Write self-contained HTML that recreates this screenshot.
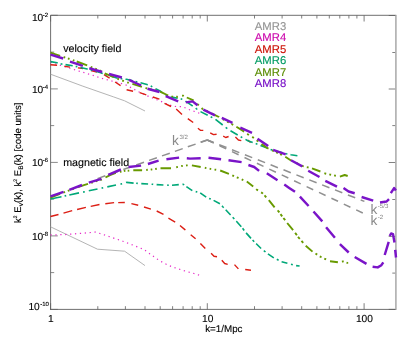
<!DOCTYPE html>
<html><head><meta charset="utf-8"><title>spectra</title>
<style>
html,body{margin:0;padding:0;background:#fff;}
body{width:411px;height:342px;overflow:hidden;}
svg{display:block;will-change:transform;}
text{font-family:"Liberation Sans",sans-serif;text-rendering:geometricPrecision;}
</style></head><body>
<svg width="411" height="342" viewBox="0 0 411 342">
<rect x="0" y="0" width="411" height="342" fill="#fff"/>
<g fill="none" stroke="#606060" stroke-width="0.9">
<path stroke="#4a4a4a" stroke-width="0.7" d="M395.5 15.5h-6.8M395.5 52.5h-3.2M395.5 89.0h-6.8M395.5 125.6h-3.2M395.5 162.5h-6.8M395.5 199.5h-3.2M395.5 236.4h-6.8M395.5 273.1h-3.2M395.5 309.4h-6.8"/>
<path stroke="#8a8a8a" stroke-width="1" d="M50.6 15.3h7.2M50.6 52.1h3.6M50.6 88.9h7.2M50.6 125.6h3.6M50.6 162.4h7.2M50.6 199.1h3.6M50.6 235.9h7.2M50.6 272.6h3.6M50.6 309.4h7.2"/>
<path stroke="#5e5e5e" stroke-width="0.8" d="M50.6 309.4v-6.2M50.6 15.3v6.2M97.8 309.4v-3.2M97.8 15.3v3.2M125.4 309.4v-3.2M125.4 15.3v3.2M145.0 309.4v-3.2M145.0 15.3v3.2M160.2 309.4v-3.2M160.2 15.3v3.2M172.6 309.4v-3.2M172.6 15.3v3.2M183.1 309.4v-3.2M183.1 15.3v3.2M192.2 309.4v-3.2M192.2 15.3v3.2M200.2 309.4v-3.2M200.2 15.3v3.2M207.3 309.4v-6.2M207.3 15.3v6.2M254.5 309.4v-3.2M254.5 15.3v3.2M282.1 309.4v-3.2M282.1 15.3v3.2M301.7 309.4v-3.2M301.7 15.3v3.2M316.9 309.4v-3.2M316.9 15.3v3.2M329.3 309.4v-3.2M329.3 15.3v3.2M339.8 309.4v-3.2M339.8 15.3v3.2M348.9 309.4v-3.2M348.9 15.3v3.2M356.9 309.4v-3.2M356.9 15.3v3.2M364.1 309.4v-6.2M364.1 15.3v6.2"/>
<path d="M50.6 309.8V15.3H396.3V15.3"/>
<path d="M50.1 309.4H396.3"/>
<path stroke="#a8a8a8" stroke-width="1.5" d="M395.9 15.3V309.4"/>
</g>
<g fill="none" stroke="#909090" stroke-width="1.5">
<path d="M200.7 142.3L207.2 140.0M187.8 146.8L195.6 144.1M174.9 151.4L182.7 148.6M162.0 155.9L169.8 153.2M149.1 160.4L156.9 157.7M136.2 165.0L144.0 162.2M123.3 169.5L131.1 166.8M110.4 174.0L118.2 171.3M97.5 178.6L105.3 175.8"/>
<path d="M207.2 140.0L213.6 142.5M219.2 144.7L226.5 147.5M232.0 149.7L239.3 152.6M244.9 154.7L252.2 157.6M257.8 159.8L265.1 162.6M270.6 164.8L277.9 167.7M283.5 169.8L290.8 172.7M296.4 174.9L303.7 177.7M309.3 179.9L316.6 182.7M322.1 184.9L329.4 187.8M335.0 189.9L342.3 192.8M347.9 195.0L355.2 197.8M360.7 200.0L364.4 201.4"/>
<path d="M207.2 140.0L213.8 143.1M219.6 145.8L226.2 148.9M232.0 151.6L238.6 154.7M244.5 157.5L251.1 160.6M256.9 163.3L263.5 166.4M269.3 169.1L275.9 172.2M281.7 174.9L288.3 178.0M294.1 180.8L300.7 183.9M306.6 186.6L313.2 189.7M319.0 192.4L325.6 195.5M331.4 198.2L338.0 201.3M343.8 204.1L350.4 207.2M356.2 209.9L362.8 213.0"/>
<path stroke-linejoin="miter" d="M200.7 142.3L207.2 140.0L213.3 142.4"/>
</g>
<g fill="none" stroke="#a6a6a6" stroke-width="0.85"><polyline points="50.5,74.2 82.9,86.2 113.3,96.8 124.6,100.8 145.0,111.0"/><polyline points="50.5,226.8 97.5,249.2 124.6,251.2 145.0,265.6"/></g>
<g fill="none" stroke="#e628c8" stroke-width="1.2" stroke-dasharray="1.25 3.65"><polyline points="50.5,62.3 70.0,68.3 82.9,72.3 92.1,75.1 101.6,78.3 110.8,80.8 120.0,83.1 125.1,84.6 133.1,88.7 137.5,91.2 149.9,97.0 159.4,100.7 171.8,105.8 176.2,106.5 183.0,106.7 187.8,109.2 196.5,112.1 200.0,113.5"/><polyline points="50.5,235.0 64.5,234.6 83.9,233.1 95.6,232.1 103.4,234.6 113.1,237.9 122.8,241.2 131.4,244.5 144.0,249.5 151.8,255.3 159.6,260.7 168.4,265.4 177.1,268.5 185.9,271.3 195.2,273.8 199.5,275.3"/></g>
<g fill="none" stroke="#dc1e14" stroke-width="1.4" stroke-linejoin="round"><path d="M50.5 64.7L57.1 65.3M64.4 66.3L70.0 67.1M77.9 67.9L81.6 68.3L83.0 68.6M91.0 70.5L95.0 71.5L97.0 72.2M104.0 74.7L109.6 78.1M115.1 82.0L120.6 85.7M126.6 89.7L133.1 91.2M139.7 92.6L146.3 94.8M152.8 97.0L159.4 99.2M164.5 103.3L171.1 106.5M176.2 109.1L182.0 114.5M187.8 118.6L193.2 122.5M197.9 128.3L200.4 130.3L203.3 130.4M210.2 132.8L213.5 134.6L216.6 134.2M223.2 136.1L225.7 137.5L228.6 136.5M235.4 137.1L238.4 140.0L241.3 140.6M247.7 140.0L250.6 142.6"/><path d="M50.5 216.5L58.5 214.5M63.5 213.2L72.2 210.7M77.1 209.5L85.9 207.4M90.7 206.4L99.5 204.5M105.3 203.7L114.1 202.6M118.2 202.6L124.6 202.5L124.8 202.5M131.4 203.6L138.2 205.2M144.0 207.0L150.9 209.1M156.7 211.0L163.5 214.3M168.4 218.2L175.2 222.1M180.0 225.5L184.9 229.6L185.4 230.0M190.7 234.7L195.6 238.8M200.4 243.4L205.3 248.5M211.1 253.3L214.0 256.3L217.0 256.8M221.8 260.2L224.7 263.5L227.7 264.4M234.5 264.6L238.4 268.9M245.2 269.5L251.0 270.3"/></g>
<g fill="none" stroke="#00a878" stroke-width="1.6" stroke-linejoin="round"><path d="M50.5 61.6L57.1 62.8L57.7 63.0M60.6 63.8L61.4 64.0L62.4 64.1M65.5 64.6L72.7 65.8M75.7 66.4L77.3 66.8M80.5 67.5L87.2 69.0L87.7 69.1M90.7 69.9L92.3 70.4M95.5 71.3L100.0 72.5L102.7 73.4M105.7 74.4L107.3 74.9M110.5 76.0L117.6 78.3L117.7 78.3M120.7 78.6L122.3 78.8M125.5 79.2L126.5 79.3L132.7 80.7M135.7 81.3L136.0 81.4L137.3 81.8M140.5 82.7L147.0 84.6L147.7 84.9M150.7 86.1L151.8 86.6L152.3 86.9M155.5 88.6L160.6 91.3L162.7 93.0M165.7 95.1L167.3 95.8M170.5 97.1L174.2 97.6L177.7 98.3M180.7 98.9L182.3 99.2M185.5 101.1L191.7 105.3L192.7 106.0M195.7 108.2L197.3 109.5M200.5 111.6L207.7 115.2M210.7 116.7L212.3 117.6M215.5 119.3L222.7 125.0M225.7 127.3L227.3 128.6M230.5 130.7L237.7 135.0M240.7 136.7L242.3 137.6M245.5 139.4L247.8 140.7L252.7 142.5M255.7 143.6L257.4 144.2M260.5 145.4L267.2 148.0L267.7 148.2M270.6 149.4L272.1 150.0L272.4 150.1M275.5 150.9L282.7 152.8M285.6 153.6L286.3 153.8L287.4 154.0M290.5 154.6L291.0 154.7L297.4 155.7"/><path d="M50.5 199.0L61.5 196.7M64.6 196.0L66.2 195.6M69.3 195.0L79.0 192.9M83.1 192.1L84.8 191.7M88.8 190.8L97.5 189.0M101.6 188.1L103.2 187.7M107.3 186.9L116.0 185.0M120.5 184.1L122.1 183.7M126.0 182.6L126.5 182.4L133.6 183.1M136.2 183.3L137.8 183.4M141.3 183.6L148.1 184.0M151.6 184.2L152.4 184.3L153.2 184.4M156.6 184.6L163.4 185.0M167.2 185.1L168.8 185.2M172.0 185.3L178.8 184.6M182.5 184.4L183.3 184.3L184.2 184.9M186.4 186.6L192.3 190.7M195.7 191.6L197.3 192.0M200.2 192.8L206.2 197.1M209.1 198.4L210.8 199.1M213.6 200.4L219.9 203.7M222.0 205.9L222.8 206.8L223.7 207.7M225.7 209.8L230.6 215.0M232.7 217.2L234.3 219.0M236.3 221.1L236.4 221.2L241.3 226.7M242.6 228.3L244.2 230.5M246.1 232.9L251.0 238.4M252.6 240.0L254.2 241.7M256.1 243.6L256.3 243.8L261.1 248.5M263.8 250.6L265.5 252.0M267.9 253.9L273.8 257.8M276.8 259.3L278.6 260.2M281.6 261.7L287.4 263.2M291.0 264.2L292.8 264.7M296.1 265.6L299.6 266.0"/></g>
<g fill="none" stroke="#689a00" stroke-width="1.9" stroke-linejoin="round"><path d="M50.5 52.6L60.1 55.8M63.6 57.0L65.2 57.6M67.9 58.4L69.5 59.0M72.8 60.1L73.6 60.4L74.4 60.7M76.7 61.5L87.2 65.3M90.7 66.8L91.8 67.3L92.3 67.5M95.2 68.6L96.8 69.3M99.6 70.3L100.0 70.5L101.2 71.3M104.7 73.4L113.9 77.1M117.4 78.6L118.2 79.0L119.0 79.3M122.2 80.5L123.1 80.8L123.9 81.1M127.2 82.3L128.0 82.6L128.8 82.9M132.4 83.9L141.9 86.8M145.5 87.9L146.3 88.2L147.2 88.4M150.0 89.1L151.7 89.5M154.6 90.2L156.2 90.7M160.1 91.6L168.2 95.5M171.5 96.4L172.3 96.6L173.2 96.6M176.2 96.8L177.1 96.8L177.9 96.6M182.1 95.8L183.0 95.6L183.8 96.0M186.8 97.5L193.6 100.4M197.2 103.8L198.8 105.4M201.6 108.0L202.4 108.8L203.2 109.2M206.2 110.7L207.8 111.5M211.5 113.3L218.9 117.0L219.0 117.1M222.7 119.1L224.3 120.0M227.2 121.6L228.8 122.5M231.5 124.0L233.2 124.9M236.4 126.7L244.2 131.6M247.2 133.9L248.1 134.5L248.9 135.0M252.2 136.9L253.0 137.4L253.8 138.1M256.6 140.2L258.4 141.5M261.5 143.9L262.4 144.6L267.2 148.0L268.5 148.6M272.1 150.3L273.9 151.2M276.1 152.2L277.9 153.1M280.1 154.1L281.9 154.9M285.3 156.7L290.6 160.2L291.2 160.5M296.6 163.1L298.4 164.0M301.9 165.7L303.7 166.5M306.8 167.2L308.1 167.4L308.6 167.5M312.0 168.4L320.4 171.5M324.4 173.2L325.3 173.5L326.2 173.7M329.3 174.4L330.2 174.6L331.1 174.8M334.1 175.4L335.0 175.6L335.9 175.8M339.9 176.6L344.7 175.0L347.7 176.0"/><path d="M50.5 197.7L60.0 193.9M63.4 192.6L65.0 191.9M67.8 190.9L69.4 190.3M72.2 189.4L73.8 188.7M78.0 187.2L83.9 185.1L88.0 183.8M91.2 182.8L92.8 182.3M95.7 181.4L97.3 180.9M100.2 180.0L101.4 179.6L101.8 179.4M105.5 177.5L110.0 175.1L115.8 172.8M119.9 171.9L121.5 171.6M123.8 171.1L124.6 170.9L125.4 170.8M127.7 170.7L129.3 170.6M133.3 170.3L142.1 170.3M146.2 170.0L147.8 169.8M150.7 169.6L151.5 169.5L152.3 169.4M155.2 169.0L156.8 168.7M160.5 168.3L171.0 168.3M176.2 167.2L177.1 167.0L177.9 166.8M181.2 166.2L182.0 166.0L182.8 165.9M186.0 165.5L186.8 165.4L187.7 165.4M191.9 165.4L200.7 167.0M204.8 167.8L206.4 168.1M209.6 168.7L210.4 168.9L211.2 169.0M214.5 169.6L216.2 169.8M220.2 170.5L228.9 173.8M232.3 175.3L234.0 176.1M236.8 177.3L237.7 177.7L238.5 178.1M241.7 179.4L243.3 180.1M246.8 181.6L253.2 186.4M256.2 189.1L257.1 189.9L258.0 190.4M261.1 192.3L262.0 192.8L262.9 193.7M264.5 195.4L265.4 196.3L266.2 197.3M268.8 200.2L274.6 207.4M277.6 210.4L278.5 211.3L279.4 212.4M280.5 214.1L282.2 216.3M283.4 218.0L284.3 219.1L285.2 220.2M287.2 223.0L293.1 230.2M295.1 232.9L296.9 235.2M298.0 236.8L298.9 237.9L299.8 238.9M301.5 240.9L303.2 242.9M305.7 245.7L312.5 251.6M315.5 253.5L317.2 254.6M319.8 256.3L320.7 256.8L321.6 257.2M324.3 258.6L326.1 259.4M330.0 261.3L337.9 262.3M341.9 261.6L342.8 261.4L343.7 261.7M346.5 262.6L347.4 262.9L348.2 262.9"/></g>
<g fill="none" stroke="#7a14c8" stroke-width="2.45" stroke-linejoin="round"><path d="M50.5 54.6L63.2 58.5M70.0 61.6L82.9 65.9M89.3 68.3L102.2 72.0M109.0 74.0L121.9 77.5M129.0 79.9L141.2 85.5M147.5 88.7L159.5 92.0M165.7 96.1L178.2 101.3M185.8 102.4L192.6 101.4L197.5 105.3M203.3 109.6L215.0 115.4M221.8 117.9L232.5 122.8M240.3 127.7L252.0 132.9M257.5 138.8L268.2 146.0M273.1 149.9L285.7 154.4M291.0 160.2L302.3 166.4M308.2 170.7L319.5 177.0M325.3 180.9L337.0 186.7M343.5 188.0L348.6 191.5L354.7 193.2M361.6 197.0L373.2 200.7M380.0 202.5L386.6 201.5L389.0 199.1M390.8 193.2L394.1 188.1L395.9 190.5"/><path d="M50.5 196.3L63.5 191.8M69.3 189.9L82.0 185.0M88.8 182.7L101.4 178.8M108.2 174.9L120.9 169.5M128.5 167.0L141.1 165.6M147.9 164.0L158.6 160.7M166.4 159.2L179.1 157.6M186.8 158.3L190.0 158.6L200.7 158.2M208.5 157.8L221.1 159.2M228.5 160.2L241.6 162.1M248.4 165.0L254.2 167.0L259.1 170.9M266.8 173.3L277.5 180.2M284.3 184.6L289.2 187.9L295.0 191.8M299.9 196.7L308.6 206.0M313.5 211.5L322.3 221.4M326.1 227.2L334.9 237.8M339.9 244.2L348.7 252.5M354.7 257.0L366.5 263.9M372.6 266.7L377.7 267.4L381.4 265.2L383.3 262.3M384.7 255.0L388.7 241.8M389.7 236.0L391.1 233.5L393.0 234.1L394.5 242.5M395.2 249.9L396.0 257.5"/></g>
<g fill="#000" stroke="#000" stroke-width="0.12">
<text x="43.3" y="20.9" font-size="10.2" text-anchor="end">10</text><text x="48.0" y="16.9" font-size="6" text-anchor="end">-2</text>
<text x="43.3" y="92.5" font-size="10.2" text-anchor="end">10</text><text x="48.0" y="88.5" font-size="6" text-anchor="end">-4</text>
<text x="43.3" y="166.0" font-size="10.2" text-anchor="end">10</text><text x="48.0" y="162.0" font-size="6" text-anchor="end">-6</text>
<text x="43.3" y="239.5" font-size="10.2" text-anchor="end">10</text><text x="48.0" y="235.5" font-size="6" text-anchor="end">-8</text>
<text x="39.8" y="309.9" font-size="10.2" text-anchor="end">10</text><text x="48.9" y="305.9" font-size="6" text-anchor="end">-10</text>
<text x="50.9" y="321.5" font-size="10.2" text-anchor="middle">1</text>
<text x="207.7" y="321.5" font-size="10.2" text-anchor="middle">10</text>
<text x="364.4" y="321.5" font-size="10.2" text-anchor="middle">100</text>
<text x="205.2" y="331.8" font-size="9.8">k=1/Mpc</text>
<text x="63.2" y="52.3" font-size="10.7">velocity field</text>
<text x="63.2" y="165.7" font-size="10.7">magnetic field</text>
<text transform="translate(20.6 223.0) rotate(-90)" font-size="9.6">k<tspan font-size="5" dy="-3.6">2</tspan><tspan dy="3.6"> E</tspan><tspan font-size="6.6" dy="2.7">v</tspan><tspan dy="-2.7">(k), k</tspan><tspan font-size="5" dy="-3.6">2</tspan><tspan dy="3.6"> E</tspan><tspan font-size="6.6" dy="2.7">B</tspan><tspan dy="-2.7">(k) [code units]</tspan></text>
</g>
<text x="254.8" y="29.9" font-size="11.3" fill="#949494" stroke="#949494" stroke-width="0.12">AMR3</text>
<text x="254.8" y="41.3" font-size="11.3" fill="#cc08ac" stroke="#cc08ac" stroke-width="0.12">AMR4</text>
<text x="254.8" y="52.7" font-size="11.3" fill="#cc1004" stroke="#cc1004" stroke-width="0.12">AMR5</text>
<text x="254.8" y="64.2" font-size="11.3" fill="#009c64" stroke="#009c64" stroke-width="0.12">AMR6</text>
<text x="254.8" y="75.6" font-size="11.3" fill="#598c00" stroke="#598c00" stroke-width="0.12">AMR7</text>
<text x="254.8" y="87.0" font-size="11.3" fill="#760cc6" stroke="#760cc6" stroke-width="0.12">AMR8</text>
<g fill="#8a8a8a">
<text x="172.0" y="144.8" font-size="13.7">k</text><text x="179.4" y="139.0" font-size="6.1" fill="#858585">3/2</text>
<text x="370.4" y="213.7" font-size="13.7">k</text><text x="377.8" y="207.9" font-size="6.1" fill="#858585">-5/3</text>
<text x="370.4" y="225.1" font-size="13.7">k</text><text x="377.8" y="219.3" font-size="6.1" fill="#858585">-2</text>
</g>
</svg>
</body></html>
